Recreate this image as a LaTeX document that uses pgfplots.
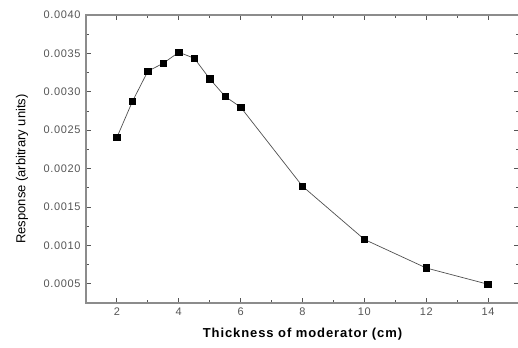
\documentclass[border=0pt]{standalone}
\usepackage{pgfplots}
\pgfplotsset{compat=1.18}
\usepackage{fontspec}
\setmainfont{Liberation Sans}
\definecolor{axgray}{RGB}{140,140,140}
\definecolor{tickgray}{RGB}{85,85,85}
\definecolor{linegray}{RGB}{80,80,80}
\begin{document}
\begin{tikzpicture}[x=1pt,y=1pt]
\begin{axis}[
  scale only axis,
  width=433pt, height=288pt,
  xmin=1, xmax=15,
  ymin=0.00025, ymax=0.0040,
  xtick={2,4,...,14},
  ytick={0.0005,0.0010,0.0015,0.0020,0.0025,0.0030,0.0035,0.0040},
  minor x tick num=1,
  minor y tick num=1,
  tick align=inside,
  major tick length=5pt,
  minor tick length=3pt,
  axis line style={axgray, line width=1.3pt},
  every tick/.style={tickgray, line width=0.9pt},
  scaled y ticks=false,
  yticklabel style={/pgf/number format/.cd, fixed, fixed zerofill, precision=4, /tikz/.cd},
  /pgf/number format/assume math mode=true,
  tick label style={font=\fontsize{11}{13}\selectfont\addfontfeature{LetterSpace=6}, text=tickgray},
  xticklabel style={yshift=-1pt},
  yticklabel style={xshift=-2pt},
  every axis x label/.style={at={(rel axis cs:0.5,0)}, anchor=center, yshift=-31pt,
     font=\fontsize{13}{15}\selectfont\bfseries\addfontfeature{LetterSpace=7}},
  every axis y label/.style={at={(rel axis cs:0,0.5)}, anchor=center, xshift=-64pt, yshift=-10pt, rotate=90,
     font=\fontsize{13}{15}\selectfont},
  xlabel={Thickness of moderator (cm)},
  ylabel={Response (arbitrary units)},
]
\coordinate (sw) at (rel axis cs:0,0);
\coordinate (ne) at (rel axis cs:1,1);
\addplot[linegray, line width=0.7pt, mark=square*, mark size=3.3pt, mark options={black, solid}]
coordinates {
(2,0.002407) (2.5,0.002874) (3,0.003268) (3.5,0.003372) (4,0.003515)
(4.5,0.003437) (5,0.003169) (5.5,0.002939) (6,0.002800) (8,0.001770)
(10,0.001078) (12,0.000706) (14,0.000494)
};
\end{axis}
\pgfresetboundingbox
\useasboundingbox ([shift={(-86pt,-44pt)}]sw) rectangle ([shift={(-1pt,15pt)}]ne);
\end{tikzpicture}
\end{document}
